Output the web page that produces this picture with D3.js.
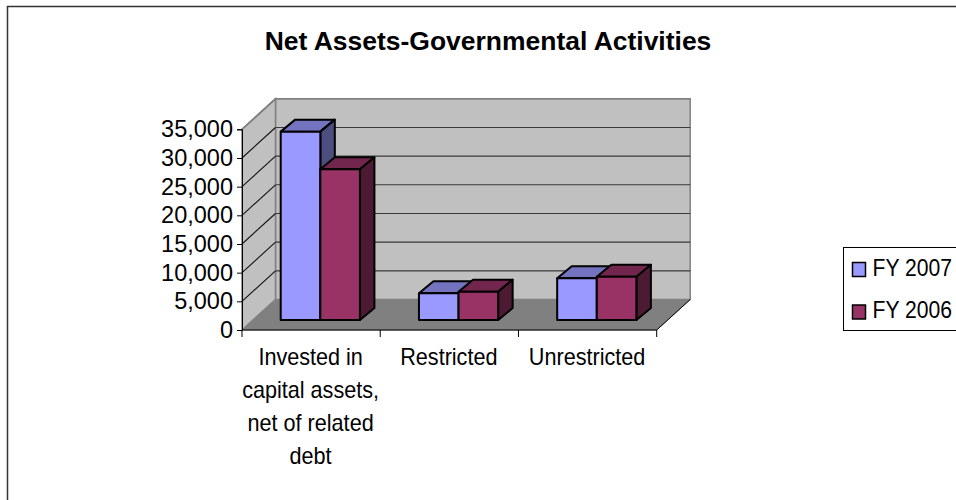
<!DOCTYPE html>
<html>
<head>
<meta charset="utf-8">
<script src="https://cdn.jsdelivr.net/npm/d3@7/dist/d3.min.js"></script>
<style>
html,body{margin:0;padding:0;background:#fff;overflow:hidden}
svg{display:block}
text{font-family:"Liberation Sans",Arial,sans-serif;fill:#000}
</style>
</head>
<body>
<svg id="chart" width="956" height="500"></svg>
<script>
const categories = [["Invested in","capital assets,","net of related","debt"],["Restricted"],["Unrestricted"]];
const seriesNames = ["FY 2007","FY 2006"];
const fy2007 = [32850, 4650, 7270];
const fy2006 = [26280, 4940, 7550];
const seriesValues = [fy2007, fy2006];
const tickValues = [0,5000,10000,15000,20000,25000,30000,35000];
const seriesFront = ["#9999ff","#993366"];
const seriesTop = ["#7373bf","#73264d"];
const seriesSide = ["#4d4d80","#4d1a33"];

const svg = d3.select("#chart");

// Oblique projection: the front plane of the box, plus a depth offset
const floorDepth = {x:33.5, y:-30.5};
const barInset = {x:9.2, y:-10};
const barDepth = {x:14.5, y:-12};

const x0 = d3.scaleBand().domain(d3.range(categories.length)).range([242,656.7]);
const x1 = d3.scaleBand().domain(d3.range(seriesNames.length))
  .range([0,x0.bandwidth()]).paddingInner(0).paddingOuter(0.745);
const y = d3.scaleLinear().domain([0,35000]).range([330,129.3]);

const line = d3.line();
const poly = pts => line(pts)+"Z";
const shift = (p,d) => [p[0]+d.x,p[1]+d.y];

// Adjusts a text run's width, keeping its height
function squeeze(sel, factor){
  sel.each(function(){
    const w = this.getComputedTextLength();
    d3.select(this).attr("textLength",w*factor).attr("lengthAdjust","spacingAndGlyphs");
  });
}

// Outer frame of the chart area
svg.append("path").attr("d","M7.5,500V6.5H956").attr("fill","none").attr("stroke","#333").attr("stroke-width",1.5);

svg.append("text").attr("x",488).attr("y",50).attr("text-anchor","middle")
  .attr("font-weight","bold").attr("font-size",26)
  .text("Net Assets-Governmental Activities").call(squeeze,1.018);

const xL = x0.range()[0], xR = x0.range()[1];
const yB = y(0), yT = y(35000);
const bl=[xL,yB], br=[xR,yB], tl=[xL,yT];

// Back wall, side wall and floor
svg.append("path").attr("d",poly([shift(bl,floorDepth),shift(br,floorDepth),shift([xR,yT],floorDepth),shift(tl,floorDepth)]))
  .attr("fill","#c0c0c0").attr("stroke","#808080").attr("stroke-width",1.5);
svg.append("path").attr("d",poly([bl,shift(bl,floorDepth),shift(tl,floorDepth),tl]))
  .attr("fill","#c0c0c0").attr("stroke","#808080").attr("stroke-width",1.5);
svg.append("path").attr("d",poly([bl,br,shift(br,floorDepth),shift(bl,floorDepth)]))
  .attr("fill","#808080").attr("stroke","#808080").attr("stroke-width",1);

// Gridlines run across the side wall and back wall
const grid = svg.append("g").attr("fill","none").attr("stroke-width",1.1);
tickValues.slice(1,-1).forEach(v=>{
  const a=[xL,y(v)], b=shift(a,floorDepth), c=[xR+floorDepth.x,b[1]];
  grid.append("path").attr("d",line([a,b])).attr("stroke","#111");
  grid.append("path").attr("d",line([b,c])).attr("stroke","#3a3a3a");
});
// The wall's outer edge stays grey
svg.append("path").attr("d",line([tl,shift(tl,floorDepth),shift([xR,yT],floorDepth)]))
  .attr("fill","none").attr("stroke","#808080").attr("stroke-width",1.6);

// Open right edge of the floor
svg.append("path").attr("d",line([shift(br,floorDepth),br])).attr("fill","none").attr("stroke","#000");

// Value axis
const yAxis = svg.append("g").attr("transform",`translate(${xL},0)`)
  .call(d3.axisLeft(y).tickValues(tickValues).tickFormat(d3.format(",")).tickSize(5).tickPadding(4));
yAxis.selectAll("text").attr("font-size",23.5).attr("style","font-family:'Liberation Sans',Arial,sans-serif");
yAxis.selectAll("line,path").attr("stroke","#000");

// Category axis with boundary ticks
const catTicks = d3.range(categories.length+1).map(i=>xL+i*x0.step());
svg.append("path").attr("d",line([bl,br])).attr("stroke","#000").attr("fill","none");
svg.selectAll("line.cat").data(catTicks).join("line").attr("class","cat")
  .attr("x1",d=>d).attr("x2",d=>d).attr("y1",yB).attr("y2",yB+7).attr("stroke","#000");

const catGroups = svg.append("g").selectAll("g").data(categories).join("g");
catGroups.each(function(lines,i){
  d3.select(this).selectAll("text").data(lines).join("text")
    .attr("text-anchor","middle").attr("font-size",24)
    .attr("x",x0(i)+x0.bandwidth()/2-0.5).attr("y",(d,j)=>365+j*33)
    .text(d=>d).call(squeeze,0.9);
});

// Bars: each is a front face, a top face and a right side face
const bars = svg.append("g").attr("stroke","#000").attr("stroke-width",2).attr("stroke-linejoin","round");
categories.forEach((c,i)=>{
  seriesValues.forEach((vals,s)=>{
    const l=x0(i)+x1(s)+barInset.x, r=l+x1.bandwidth();
    const t=y(vals[i])+barInset.y, b=y(0)+barInset.y;
    bars.append("path").attr("fill",seriesTop[s])
      .attr("d",poly([[l,t],[r,t],shift([r,t],barDepth),shift([l,t],barDepth)]));
    bars.append("path").attr("fill",seriesSide[s])
      .attr("d",poly([[r,t],shift([r,t],barDepth),shift([r,b],barDepth),[r,b]]));
    bars.append("path").attr("fill",seriesFront[s])
      .attr("d",poly([[l,t],[r,t],[r,b],[l,b]]));
  });
});

// Legend box runs off the right edge of the page
svg.append("rect").attr("x",843.5).attr("y",247.5).attr("width",120).attr("height",83)
  .attr("fill","#fff").attr("stroke","#000").attr("stroke-width",1);
const legend = svg.append("g").selectAll("g").data(seriesNames).join("g")
  .attr("transform",(d,i)=>`translate(0,${i*42.5})`);
legend.append("rect").attr("x",852.5).attr("y",262.5).attr("width",13).attr("height",14)
  .attr("fill",(d,i)=>seriesFront[i]).attr("stroke","#000").attr("stroke-width",1.5);
legend.append("text").attr("transform","translate(872.5,275.5) scale(0.88,1)").attr("font-size",24)
  .text(d=>d);
</script>
</body>
</html>
